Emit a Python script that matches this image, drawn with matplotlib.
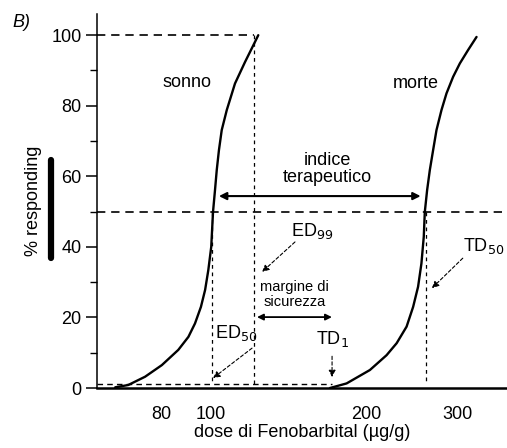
import matplotlib.pyplot as plt
from matplotlib.lines import Line2D

plt.rcParams['font.family'] = ['Liberation Sans', 'DejaVu Sans']

# curve "sonno" (dose, % responding)
sonno_x = [65.2, 69.1, 74.5, 80.3, 86.4, 90.4, 93.1, 95.6, 97.4, 98.8, 100.1, 100.9, 101.8,
           102.6, 103.6, 104.9, 107.3, 111.3, 116.4, 121.7, 123.5]
sonno_y = [0.2, 0.85, 3.2, 6.5, 10.8, 14.5, 18.3, 23.0, 27.8, 33.4, 40.0, 49.9, 56.1,
           61.8, 67.4, 73.1, 78.8, 86.3, 92.4, 98.1, 100.0]

# curve "morte"
morte_x = [170.1, 183.2, 203.3, 219.0, 229.1, 239.5, 246.6, 252.1, 255.9, 258.6, 259.8, 262.5,
           265.7, 269.6, 273.7, 279.9, 286.2, 294.8, 303.8, 315.2, 327.3]
morte_y = [0.0, 1.3, 5.1, 9.3, 12.7, 17.4, 23.0, 28.7, 35.3, 42.9, 49.9, 56.1,
           61.8, 67.4, 73.1, 78.8, 83.5, 88.2, 92.0, 95.8, 99.5]

# reference doses
ED50 = 100.5
ED99 = 121.1
TD1 = 171.7
TD50 = 261.0

x_ticks = [80, 100, 200, 300]
x_ticklabels = ['80', '100', '200', '300']
y_major = [0, 20, 40, 60, 80, 100]
y_minor = [10, 30, 50, 70, 90]

fig = plt.figure(figsize=(5.07, 4.48), dpi=100)
ax = fig.add_axes([0.1913, 0.1339, 0.8087, 0.8348])
ax.set_xscale('log')
ax.set_xlim(60.1, 375)
ax.set_ylim(0, 106)

# curves
ax.plot(sonno_x, sonno_y, color='black', lw=1.7, solid_capstyle='round', solid_joinstyle='round')
ax.plot(morte_x, morte_y, color='black', lw=1.7, solid_capstyle='round', solid_joinstyle='round')

# dashed reference lines
hdash = dict(color='black', lw=1.2, linestyle=(0, (5, 3.5)))
vdash = dict(color='black', lw=0.9, linestyle=(0, (3, 3)))
ax.plot([60.1, ED99], [100, 100], **hdash)
ax.plot([60.1, 375], [50, 50], **hdash)
ax.plot([60.1, TD1], [1, 1], color='black', lw=1.0, linestyle=(0, (4, 3)))
ax.plot([ED50, ED50], [50, 1], **vdash)
ax.plot([ED99, ED99], [100, 1], **vdash)
ax.plot([TD50, TD50], [50, 1], **vdash)

# labels on curves
ax.text(89.9, 86.7, 'sonno', fontsize=13, ha='center', va='center')
ax.text(249.5, 86.4, 'morte', fontsize=13, ha='center', va='center')

# indice terapeutico
ax.text(168, 62.0, 'indice\nterapeutico', fontsize=13, ha='center', va='center', linespacing=1.0)
ax.annotate('', xy=(103.6, 54.4), xytext=(255, 54.4),
            arrowprops=dict(arrowstyle='<|-|>', color='black', lw=1.5, mutation_scale=11,
                            shrinkA=0, shrinkB=0))

# margine di sicurezza
ax.text(145, 26.5, 'margine di\nsicurezza', fontsize=10.5, ha='center', va='center', linespacing=1.1)
ax.annotate('', xy=(122.8, 20.1), xytext=(171.6, 20.1),
            arrowprops=dict(arrowstyle='<|-|>', color='black', lw=1.3, mutation_scale=9,
                            shrinkA=0, shrinkB=0))

# dashed pointer arrows
arr = dict(arrowstyle='-|>', color='black', lw=0.8, linestyle=(0, (3, 2)),
           mutation_scale=10, shrinkA=0, shrinkB=0)
ax.text(157, 44.5, r'ED$_{99}$', fontsize=13, ha='center', va='center')
ax.annotate('', xy=(125.6, 32.9), xytext=(145.5, 41.4), arrowprops=arr)

ax.text(111.8, 15.6, r'ED$_{50}$', fontsize=13, ha='center', va='center')
ax.annotate('', xy=(100.9, 2.8), xytext=(120.1, 11.3), arrowprops=arr)

ax.text(171.7, 13.8, r'TD$_1$', fontsize=13, ha='center', va='center')
ax.annotate('', xy=(171.7, 3.1), xytext=(171.7, 9.0), arrowprops=arr)

ax.text(338, 40.3, r'TD$_{50}$', fontsize=13, ha='center', va='center')
ax.annotate('', xy=(268.2, 28.3), xytext=(307.8, 36.8), arrowprops=arr)

# axes styling
for s in ['top', 'right']:
    ax.spines[s].set_visible(False)
ax.spines['left'].set_linewidth(1.1)
ax.spines['left'].set_linestyle((0, (2, 1)))
ax.spines['bottom'].set_linewidth(1.8)

ax.set_xticks(x_ticks)
ax.set_xticklabels(x_ticklabels)
ax.xaxis.set_minor_locator(plt.NullLocator())
ax.tick_params(axis='x', length=0, pad=13, labelsize=13)
ax.set_yticks(y_major)
ax.set_yticks(y_minor, minor=True)
ax.tick_params(axis='y', which='major', length=8, width=1.1, labelsize=13, pad=3)
ax.tick_params(axis='y', which='minor', length=5, width=1.0)

ax.set_xlabel('dose di Fenobarbital (\u00b5g/g)', fontsize=13, labelpad=1)
ax.set_ylabel('% responding', fontsize=13, labelpad=7)

# "B)" panel label and the marker stroke by the axis title
fig.text(0.024, 0.949, 'B)', fontsize=13, style='italic', ha='left', va='center')
fig.add_artist(Line2D([0.1, 0.1], [0.425, 0.642], color='black', lw=4.5,
                      solid_capstyle='round', transform=fig.transFigure))

fig.savefig('out.png', dpi=100)
